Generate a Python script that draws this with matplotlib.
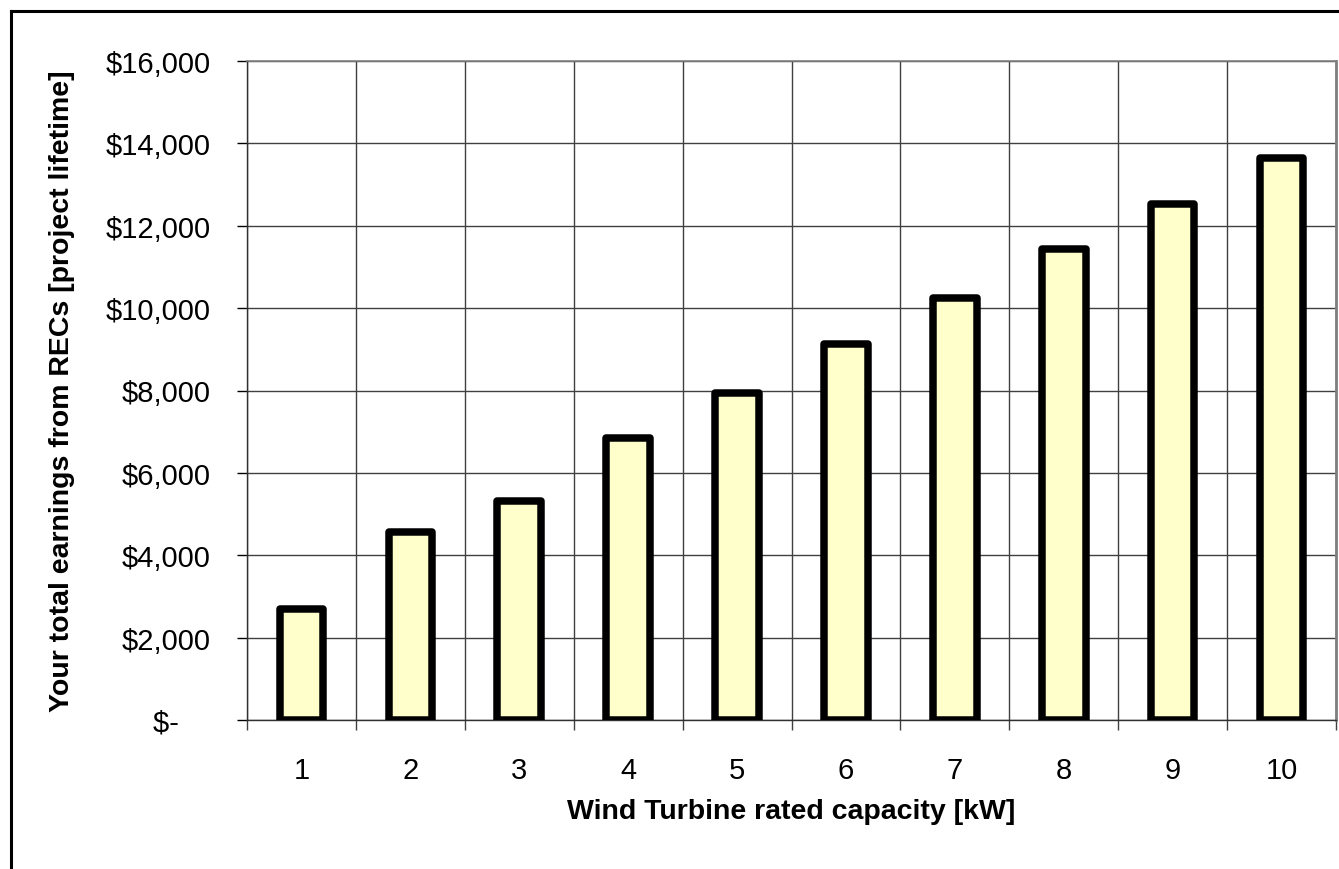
import matplotlib
matplotlib.use('Agg')
import matplotlib.pyplot as plt
from matplotlib.lines import Line2D
from matplotlib.ticker import FuncFormatter, FixedLocator

# DATA
capacity_kw = [1, 2, 3, 4, 5, 6, 7, 8, 9, 10]
rec_earnings = [2700, 4560, 5320, 6850, 7940, 9130, 10240, 11430, 12520, 13640]
y_ticks = [0, 2000, 4000, 6000, 8000, 10000, 12000, 14000, 16000]

x_label = 'Wind Turbine rated capacity [kW]'
y_label = 'Your total earnings from RECs [project lifetime]'

plt.rcParams['font.family'] = ['Liberation Sans', 'DejaVu Sans']


def money(v, pos):
    if v == 0:
        return '$-    '
    return f'${v:,.0f}'


def main():
    fig = plt.figure(figsize=(13.39, 8.70), dpi=100)
    ax = fig.add_axes([247 / 1339, 1 - 721 / 870, 1089 / 1339, 659 / 870])

    # BARS
    ax.bar(capacity_kw, rec_earnings, width=0.4, color='#FFFFCC',
           edgecolor='black', linewidth=5.4, joinstyle='round', zorder=3)

    # AXES LIMITS AND TICKS
    ax.set_xlim(0.5, len(capacity_kw) + 0.5)
    ax.set_ylim(y_ticks[0], y_ticks[-1])
    ax.set_yticks(y_ticks)
    ax.yaxis.set_major_formatter(FuncFormatter(money))
    ax.set_xticks(capacity_kw)
    ax.set_xticklabels([str(c) for c in capacity_kw])
    boundaries = [c + 0.5 for c in range(0, len(capacity_kw) + 1)]
    ax.xaxis.set_minor_locator(FixedLocator(boundaries))

    ax.tick_params(axis='y', which='major', direction='out', length=7,
                   width=1, labelsize=21, pad=19, colors='black')
    ax.tick_params(axis='x', which='major', length=0, labelsize=21, pad=26)
    ax.tick_params(axis='x', which='minor', direction='out', length=7.5,
                   width=1, color='#404040')

    # GRID
    ax.grid(True, axis='y', which='major', color='#404040', linewidth=1, zorder=0)
    ax.grid(True, axis='x', which='minor', color='#404040', linewidth=1, zorder=0)
    ax.set_axisbelow(True)

    for side in ['left', 'bottom']:
        ax.spines[side].set_color('#303030')
        ax.spines[side].set_linewidth(1)
    ax.spines['top'].set_color('#808080')
    ax.spines['top'].set_linewidth(1.2)
    ax.spines['right'].set_color('#808080')
    ax.spines['right'].set_linewidth(2)

    # LABELS
    ax.set_xlabel(x_label, fontsize=20.5, fontweight='bold', labelpad=10)
    ax.set_ylabel(y_label, fontsize=20.5, fontweight='bold', labelpad=22)

    # OUTER CHART BORDER (LEFT AND TOP VISIBLE)
    fig.add_artist(Line2D([11 / 1339, 11 / 1339], [0, 1 - 12 / 870],
                          color='black', linewidth=2.2, transform=fig.transFigure))
    fig.add_artist(Line2D([11 / 1339, 1], [1 - 12 / 870, 1 - 12 / 870],
                          color='black', linewidth=2.2, transform=fig.transFigure))

    fig.savefig('out.png', dpi=100)


if __name__ == '__main__':
    main()
